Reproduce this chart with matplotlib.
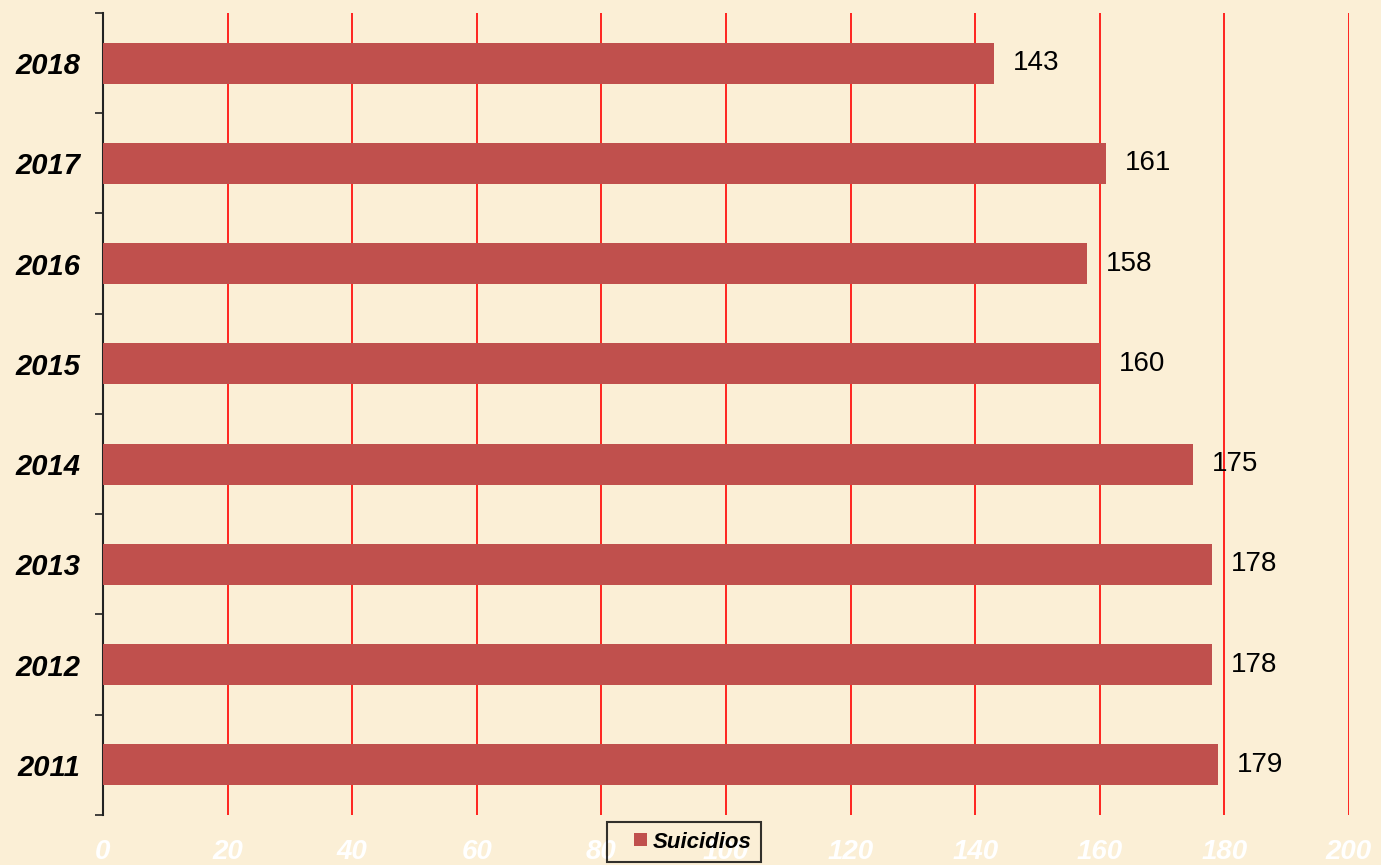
import matplotlib
matplotlib.use("Agg")
import matplotlib.pyplot as plt
from matplotlib import font_manager
from matplotlib.legend_handler import HandlerPatch
from matplotlib.patches import Rectangle
import numpy as np

plt.rcParams["font.family"] = ["Liberation Sans", "DejaVu Sans"]

years = ["2011", "2012", "2013", "2014", "2015", "2016", "2017", "2018"]
suicidios = [179, 178, 178, 175, 160, 158, 161, 143]
x_ticks = [0, 20, 40, 60, 80, 100, 120, 140, 160, 180, 200]

bg = "#FBEFD6"
bar_color = "#C0504D"

names = {f.name for f in font_manager.fontManager.ttflist}
narrow = "Liberation Sans Narrow" if "Liberation Sans Narrow" in names else "Liberation Sans"


def square_handle(legend, orig_handle, xdescent, ydescent, width, height, fontsize):
    # small square pushed to the right of the handle box
    s = 9.4
    return Rectangle((width - xdescent - s, -ydescent + (height - s) / 2), s, s)


fig = plt.figure(figsize=(13.81, 8.65), dpi=100)
fig.patch.set_facecolor(bg)
ax = fig.add_axes([0.0746, 0.0578, 0.9022, 0.9272])
ax.set_facecolor(bg)

pos = np.arange(len(years))
bars = ax.barh(pos, suicidios, height=0.41, color=bar_color, zorder=3)

for y, v in zip(pos, suicidios):
    ax.text(v + 3, y, str(v), va="center", ha="left", fontsize=20, color="black", zorder=4)

ax.set_xlim(0, 200)
ax.set_ylim(-0.5, len(years) - 0.5)

# red vertical gridlines
for t in x_ticks[1:]:
    ax.axvline(t, color="red", linewidth=1.2, zorder=2)

ax.set_xticks(x_ticks)
ax.set_xticklabels([str(t) for t in x_ticks], color="white", fontsize=20,
                   fontweight="bold", style="italic", family=narrow)
ax.tick_params(axis="x", length=0, pad=17)

ax.set_yticks(pos)
ax.set_yticklabels(years, fontsize=21, fontweight="bold", style="italic")
ax.tick_params(axis="y", which="major", length=0, pad=16)
ax.set_yticks(np.arange(-0.5, len(years)), minor=True)
ax.tick_params(axis="y", which="minor", length=6, width=1.2, color="#222222")

for s in ["top", "right", "bottom"]:
    ax.spines[s].set_visible(False)
ax.spines["left"].set_linewidth(1.5)
ax.spines["left"].set_color("#222222")

proxy = Rectangle((0, 0), 1, 1, facecolor=bar_color, edgecolor="none")
leg = ax.legend(handles=[proxy], labels=["Suicidios"],
                loc="center", bbox_to_anchor=(0.4663, -0.0337), ncol=1,
                frameon=True, fancybox=False, edgecolor="black",
                handler_map={Rectangle: HandlerPatch(patch_func=square_handle)},
                handlelength=1.37, handleheight=0.7, handletextpad=0.27,
                borderpad=0.43, borderaxespad=0,
                prop={"size": 16, "weight": "bold", "style": "italic", "family": narrow})
leg.get_frame().set_facecolor("none")
leg.get_frame().set_linewidth(1.5)
leg.set_zorder(5)

fig.savefig("out.png", dpi=100, facecolor=bg)
